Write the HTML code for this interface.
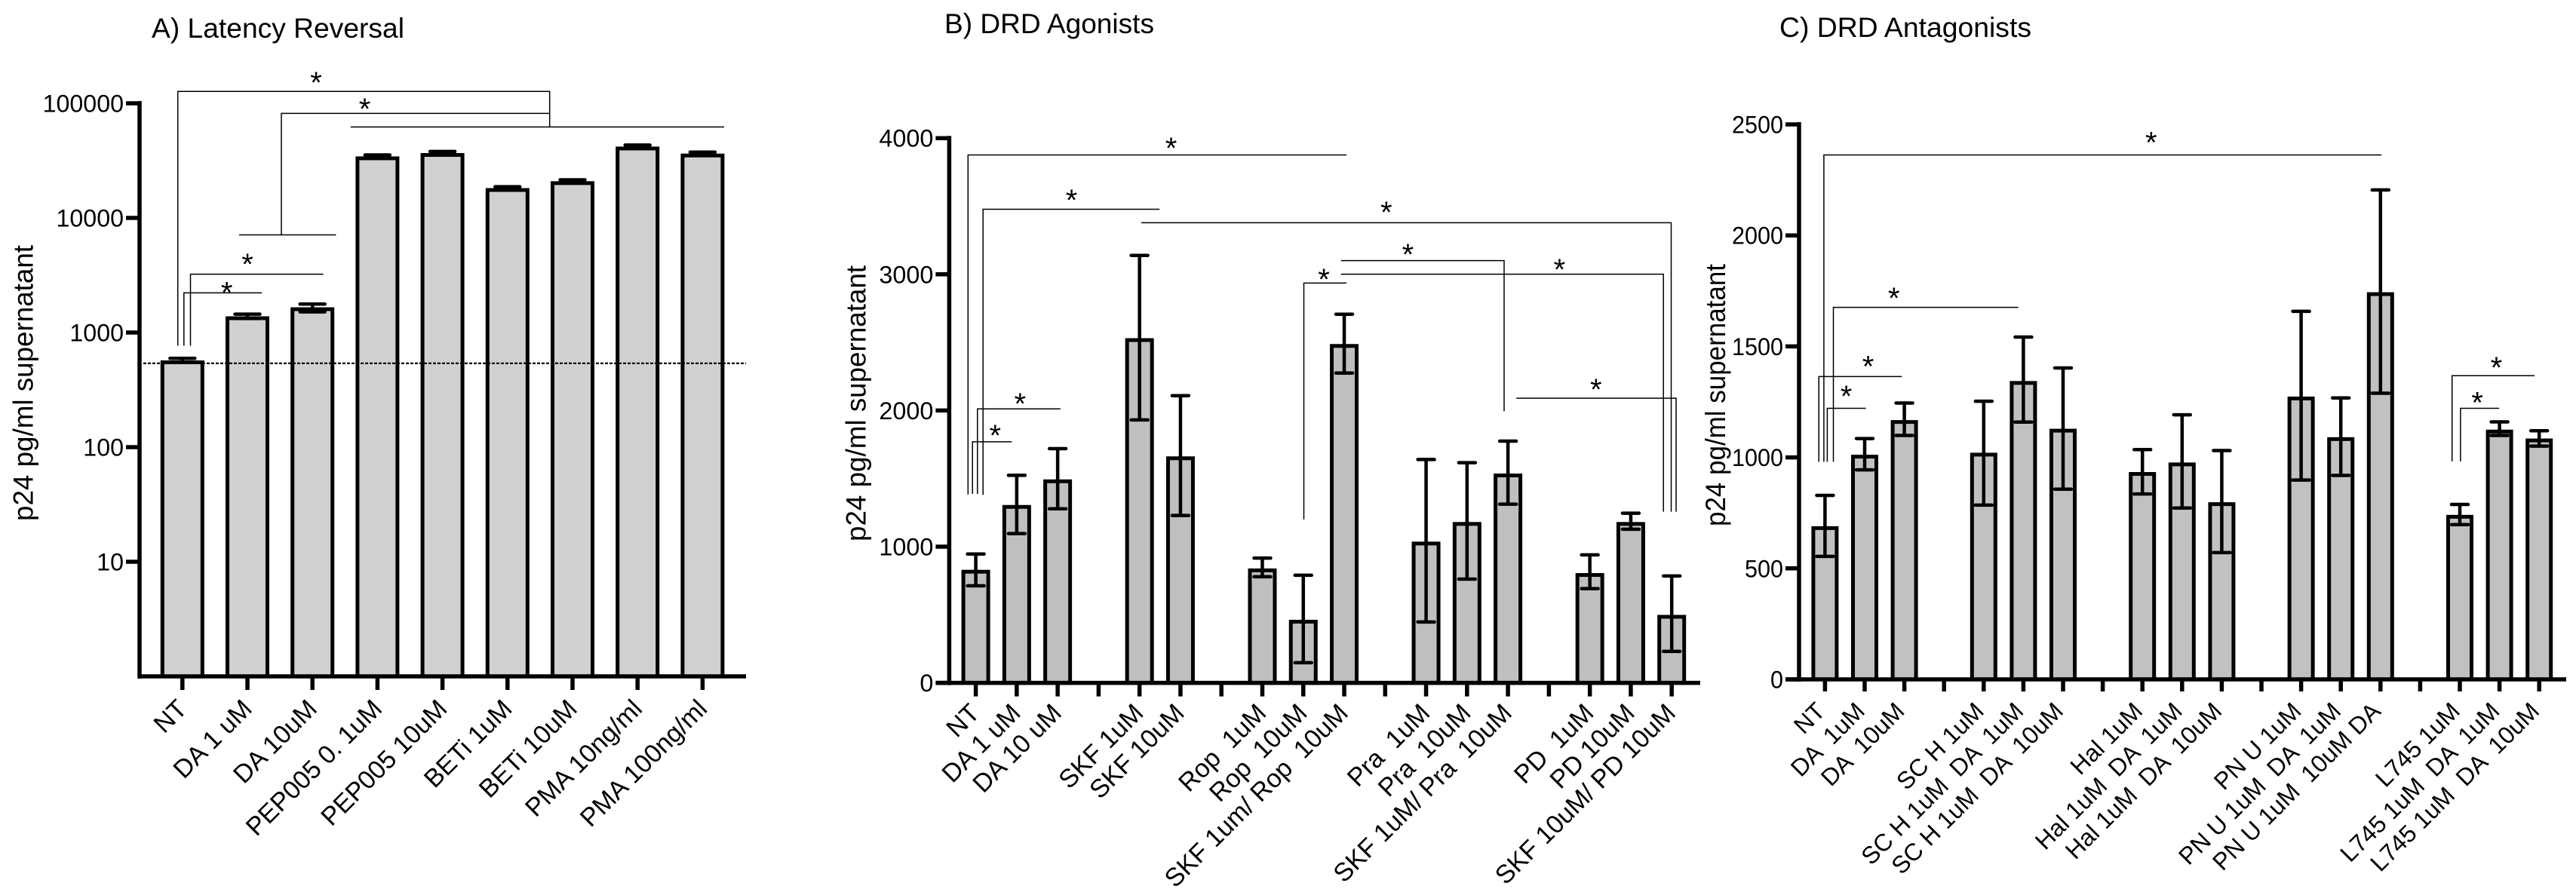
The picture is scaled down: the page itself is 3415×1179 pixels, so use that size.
<!DOCTYPE html>
<html lang="en">
<head>
<meta charset="utf-8">
<title>p24 supernatant bar charts</title>
<style>
html,body{margin:0;padding:0;background:#fff;}
svg{display:block;}
text{font-family:"Liberation Sans",sans-serif;fill:#000;}
.bracket{fill:none;stroke:#000;stroke-width:1.5;}
.star{font-size:40px;text-anchor:middle;}
.panel-title{font-size:37px;}
.y-title{font-size:37px;text-anchor:middle;}
</style>
</head>
<body>
<svg id="chart-root" xmlns="http://www.w3.org/2000/svg" width="3415" height="1179" viewBox="0 0 3415 1179">
  <rect x="0" y="0" width="3415" height="1179" fill="#fff"/>

  <g id="panel-a">
    <text class="panel-title" x="201" y="50" textLength="335" lengthAdjust="spacingAndGlyphs">A) Latency Reversal</text>
    <text class="y-title" transform="translate(43.5 508) rotate(-90)" textLength="366" lengthAdjust="spacingAndGlyphs">p24  pg/ml supernatant</text>
  </g>
  <g id="panel-b">
    <text class="panel-title" x="1252" y="44" textLength="278" lengthAdjust="spacingAndGlyphs">B) DRD Agonists</text>
    <text class="y-title" transform="translate(1147.5 535) rotate(-90)" textLength="366" lengthAdjust="spacingAndGlyphs">p24  pg/ml supernatant</text>
  </g>
  <g id="panel-c">
    <text class="panel-title" x="2359" y="49" textLength="334" lengthAdjust="spacingAndGlyphs">C) DRD Antagonists</text>
    <text class="y-title" transform="translate(2287 524) rotate(-90)" textLength="348" lengthAdjust="spacingAndGlyphs">p24  pg/ml supernatant</text>
  </g>

  <g id="annotations">
    <path class="bracket" d="M235.7 458.5V121.3H728.7V168.4"/>
    <path class="bracket" d="M373 311V150.4H728.7"/>
    <path class="bracket" d="M464.8 168.4H960"/>
    <path class="bracket" d="M316.8 311.5H445.4"/>
    <path class="bracket" d="M252.5 458.5V363.6H428.7"/>
    <path class="bracket" d="M243.8 458.5V388.4H347"/>
    <path class="bracket" d="M1283.3 655.7V205.5H1785"/>
    <path class="bracket" d="M1303.2 656.4V277.5H1537.1"/>
    <path class="bracket" d="M1512.9 295.4H2215.5V678.6"/>
    <path class="bracket" d="M1777.7 345.6H1994V545.4"/>
    <path class="bracket" d="M1777.7 363.6H2205.2V678.6"/>
    <path class="bracket" d="M1728.5 688.9V375.4H1785"/>
    <path class="bracket" d="M2010.2 528.1H2222V678.6"/>
    <path class="bracket" d="M1295.8 655V542.3H1405.8"/>
    <path class="bracket" d="M1289.2 655V585.9H1341.3"/>
    <path class="bracket" d="M2417.9 612.5V205.5H3157.2"/>
    <path class="bracket" d="M2430.5 612.5V407.6H2675.7"/>
    <path class="bracket" d="M2411.2 612.5V499.4H2521.2"/>
    <path class="bracket" d="M2422.4 612.5V541.5H2473.6"/>
    <path class="bracket" d="M3250.7 612V498.3H3360"/>
    <path class="bracket" d="M3261.9 612V541.5H3313.2"/>

    <text class="star" x="419" y="123">*</text>
    <text class="star" x="483.6" y="158">*</text>
    <text class="star" x="328" y="364">*</text>
    <text class="star" x="300.7" y="401.5">*</text>
    <text class="star" x="1552.5" y="210">*</text>
    <text class="star" x="1420.5" y="279">*</text>
    <text class="star" x="1837.8" y="295">*</text>
    <text class="star" x="1866.4" y="351">*</text>
    <text class="star" x="1755" y="384">*</text>
    <text class="star" x="2067.4" y="371">*</text>
    <text class="star" x="2115.8" y="530">*</text>
    <text class="star" x="1352.3" y="549">*</text>
    <text class="star" x="1319.3" y="591">*</text>
    <text class="star" x="2851.8" y="202.5">*</text>
    <text class="star" x="2510.8" y="409">*</text>
    <text class="star" x="2476.6" y="499.5">*</text>
    <text class="star" x="2447.6" y="539">*</text>
    <text class="star" x="3309.4" y="501">*</text>
    <text class="star" x="3284.2" y="547.5">*</text>
  </g>
</svg>

<script>
// Panel A: latency reversal (log axis)
const categoriesA = ["NT","DA 1 uM","DA 10uM","PEP005 0. 1uM","PEP005 10uM","BETi 1uM","BETi 10uM","PMA 10ng/ml","PMA 100ng/ml"];
const meansA = [571,1385,1660,34400,36800,18200,20900,41900,36400];
const upperA = [595,1447,1770,35400,38000,18700,21500,43200,37500];
const lowerA = [548,1325,1515,33500,35600,17700,20300,40600,35300];
const yTicksA = [10,100,1000,10000,100000];
const thresholdA = 539;

// Panel B: DRD agonists
const categoriesB = ["NT","DA 1 uM","DA 10 uM","","SKF 1uM","SKF 10uM","","Rop  1uM","Rop  10uM","SKF 1um/ Rop  10uM","","Pra  1uM","Pra  10uM","SKF 1uM/ Pra  10uM","","PD  1uM","PD 10uM","SKF 10uM/ PD 10uM"];
const meansB = [830,1306,1494,null,2531,1663,null,840,463,2488,null,1037,1181,1537,null,806,1181,499];
const upperB = [946,1524,1720,null,3139,2109,null,916,790,2707,null,1640,1617,1775,null,940,1246,785];
const lowerB = [713,1096,1278,null,1931,1229,null,779,148,2275,null,447,762,1312,null,692,1128,231];
const yTicksB = [0,1000,2000,3000,4000];

// Panel C: DRD antagonists
const categoriesC = ["NT","DA  1uM","DA  10uM","","SC H 1uM","SC H 1uM  DA  1uM","SC H 1uM  DA  10uM","","Hal 1uM","Hal 1uM  DA  1uM","Hal 1uM  DA  10uM","","PN U 1uM","PN U 1uM  DA  1uM","PN U 1uM  10uM DA","","L745 1uM","L745 1uM  DA  1uM","L745 1uM  DA  10uM"];
const meansC = [690,1012,1168,null,1021,1344,1129,null,934,977,798,null,1274,1091,1744,null,741,1125,1085];
const upperC = [829,1085,1245,null,1253,1542,1403,null,1035,1192,1031,null,1658,1268,2205,null,788,1160,1120];
const lowerC = [554,944,1099,null,785,1159,857,null,835,772,571,null,898,919,1289,null,697,1099,1051];
const yTicksC = [0,500,1000,1500,2000,2500];

const NS = "http://www.w3.org/2000/svg";

function node(tag, attrs, parent) {
  const e = document.createElementNS(NS, tag);
  for (const k in attrs) e.setAttribute(k, attrs[k]);
  parent.appendChild(e);
  return e;
}

function drawPanel(host, categories, means, upper, lower, yTicks, layout) {
  const g = document.getElementById(host);

  categories.forEach(function (label, i) {
    const cx = layout.x(i);
    if (means[i] !== null) {
      const top = layout.y(means[i]) + layout.barStroke / 2;
      const bar = node("rect", {
        x: cx - layout.barWidth / 2, y: top,
        width: layout.barWidth, height: layout.baseY - top,
        fill: layout.fill, stroke: "#000", "stroke-width": layout.barStroke
      }, g);
      
      
    }
  });

  categories.forEach(function (label, i) {
    if (means[i] === null) return;
    const cx = layout.x(i);
    const hi = layout.y(upper[i]);
    const lo = layout.y(lower[i]);
    const half = layout.capWidth / 2;
    const err = node("path", {
      d: "M" + cx + " " + hi + "V" + lo +
         "M" + (cx - half) + " " + hi + "H" + (cx + half) +
         "M" + (cx - half) + " " + lo + "H" + (cx + half),
      fill: "none", stroke: "#000", "stroke-width": 4.5, "stroke-linecap": "round"
    }, g);
    
    
  });

  const yAxis = node("line", {
    x1: layout.axisX, x2: layout.axisX,
    y1: layout.y(yTicks[yTicks.length - 1]) - 3, y2: layout.baseY + 3,
    stroke: "#000", "stroke-width": 5.5
  }, g);
  
  

  const xAxis = node("line", {
    x1: layout.axisX - (layout.log ? 2 : 18), x2: layout.axisEnd,
    y1: layout.baseY, y2: layout.baseY,
    stroke: "#000", "stroke-width": 5.5
  }, g);
  
  

  yTicks.forEach(function (v) {
    const ty = layout.y(v);
    const tick = node("line", {
      x1: layout.axisX - 18, x2: layout.axisX, y1: ty, y2: ty,
      stroke: "#000", "stroke-width": 5.5
    }, g);
    
    

    const str = String(v);
    const lab = node("text", {
      x: layout.axisX - 21, y: ty + 11.5, "text-anchor": "end",
      "font-size": 32, textLength: str.length * layout.digit,
      lengthAdjust: "spacingAndGlyphs"
    }, g);
    lab.textContent = str;
    
    
  });

  categories.forEach(function (label, i) {
    const cx = layout.x(i);
    const tick = node("line", {
      x1: cx, x2: cx, y1: layout.baseY, y2: layout.baseY + layout.tickLen,
      stroke: "#000", "stroke-width": 5.5
    }, g);
    
    

    if (label) {
      const lx = cx + layout.labelDx;
      const ly = layout.baseY + layout.labelDy;
      const t = node("text", {
        x: lx, y: ly, "text-anchor": "end", "font-size": layout.labelSize,
        transform: "rotate(-45 " + lx + " " + ly + ")"
      }, g);
      t.setAttribute("xml:space", "preserve");
      t.style.whiteSpace = "pre";
      t.textContent = label;
      
      
    }
  });
}

const yScaleA = function (v) { return 897 - 152 * Math.log10(v); };
const xScaleA = function (i) { return 241.8 + 86.2 * i; };
const yScaleB = function (v) { return 905.6 - 0.1806 * v; };
const xScaleB = function (i) { return 1293.6 + 54.27 * i; };
const yScaleC = function (v) { return 901 - 0.2944 * v; };
const xScaleC = function (i) { return 2419.4 + 52.6 * i; };

drawPanel("panel-a", categoriesA, meansA, upperA, lowerA, yTicksA, {
  x: xScaleA, y: yScaleA, baseY: 897, axisX: 185, axisEnd: 989, log: true,
  barWidth: 53, barStroke: 5, capWidth: 33, fill: "#d0d0d0",
  digit: 17.9, tickLen: 18, labelDx: 8, labelDy: 45, labelSize: 34
});
drawPanel("panel-b", categoriesB, meansB, upperB, lowerB, yTicksB, {
  x: xScaleB, y: yScaleB, baseY: 905.6, axisX: 1258.4, axisEnd: 2254, log: false,
  barWidth: 33, barStroke: 5, capWidth: 22, fill: "#bfbfbf",
  digit: 18, tickLen: 18, labelDx: 7, labelDy: 42, labelSize: 34
});
drawPanel("panel-c", categoriesC, meansC, upperC, lowerC, yTicksC, {
  x: xScaleC, y: yScaleC, baseY: 901, axisX: 2385, axisEnd: 3402, log: false,
  barWidth: 31, barStroke: 5, capWidth: 22, fill: "#c0c2c2",
  digit: 17, tickLen: 16, labelDx: 2, labelDy: 44, labelSize: 32
});

const dotted = node("line", {
  x1: 190, x2: 989, y1: yScaleA(thresholdA), y2: yScaleA(thresholdA),
  stroke: "#000", "stroke-width": 2.2, "stroke-dasharray": "4 2"
}, document.getElementById("panel-a"));


</script>
</body>
</html>
